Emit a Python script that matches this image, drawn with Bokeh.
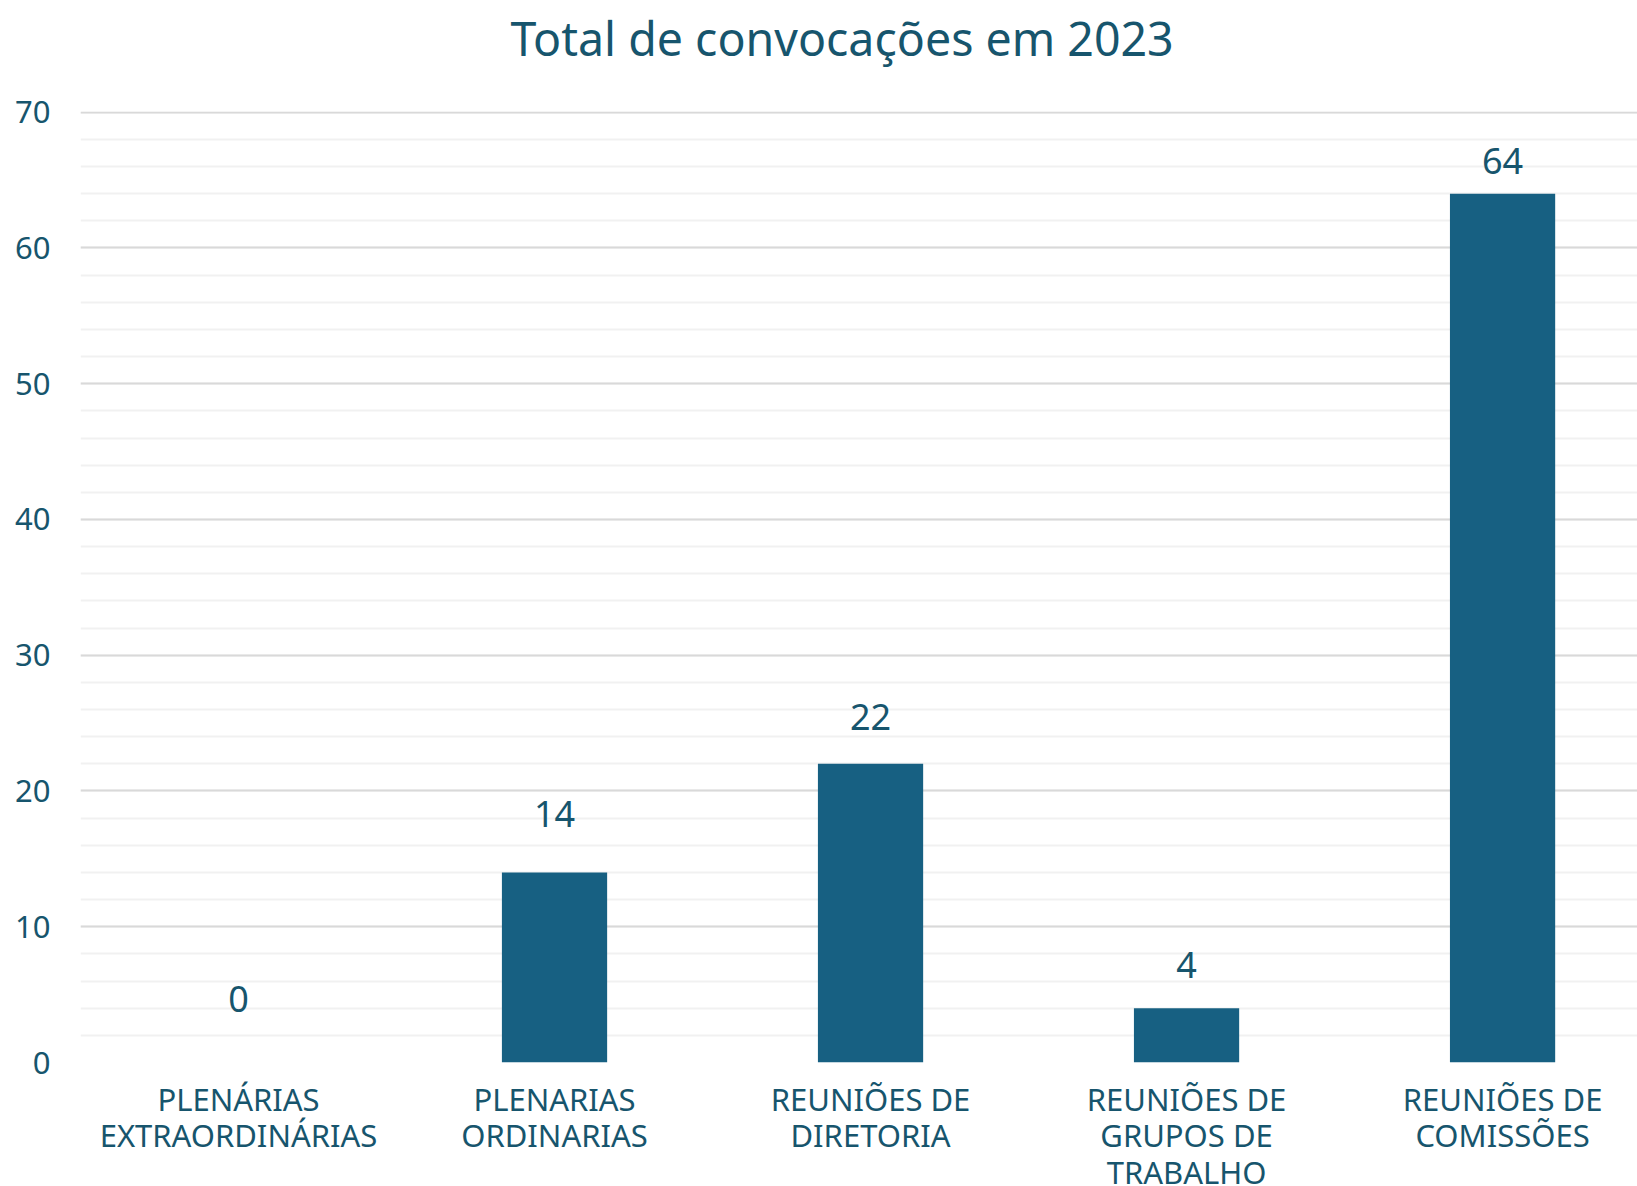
from bokeh.plotting import figure
from bokeh.models import Range1d, SingleIntervalTicker, FixedTicker, ColumnDataSource, LabelSet, Title
from bokeh.core.properties import value
from bokeh.embed import file_html
from bokeh.resources import INLINE

# ---- data ----
categories = [
    "PLENÁRIAS\nEXTRAORDINÁRIAS",
    "PLENARIAS\nORDINARIAS",
    "REUNIÕES DE\nDIRETORIA",
    "REUNIÕES DE\nGRUPOS DE\nTRABALHO",
    "REUNIÕES DE\nCOMISSÕES",
]
values = [0, 14, 22, 4, 64]
value_labels = ["0", "14", "22", "4", "64"]
title_text = "Total de convocações em 2023"

# ---- styling ----
label_gap_px = [51, 45, 34, 30, 20]
FONT = "Noto Sans"
TEXT_COLOR = "#17556d"
BAR_COLOR = "#176082"

positions = list(range(len(categories)))

p = figure(
    frame_width=1557, frame_height=951,
    x_range=Range1d(-0.5, 4.427), y_range=Range1d(0, 70.05),
    output_backend="svg", toolbar_location=None,
    min_border_left=80, min_border_right=0,
    min_border_top=111, min_border_bottom=124,
)
p.outline_line_color = None
p.background_fill_color = "white"
p.border_fill_color = "white"

p.title.text = title_text
p.title.text_font = FONT
p.title.text_font_size = "46.5px"
p.title.text_font_style = "normal"
p.title.text_color = TEXT_COLOR
p.title.align = "left"
p.title.vertical_align = "top"
p.title.offset = 430
p.title.standoff = 6

# blank spacer between the title and the plot area
spacer = Title(text=" ", text_font_size="10px", standoff=24, text_color="white")
p.add_layout(spacer, "above")

src = ColumnDataSource(dict(x=positions, top=values, lab=value_labels, gap=label_gap_px))
p.vbar(x="x", top="top", bottom=0, width=0.333, source=src,
       fill_color=BAR_COLOR, line_color=None)

labels = LabelSet(x="x", y="top", text="lab", source=src, y_offset="gap",
                  text_align="center", text_baseline="alphabetic",
                  text_font_size="36px", text_color=TEXT_COLOR,
                  text_font=value(FONT))
p.add_layout(labels)

# y axis
p.yaxis.ticker = SingleIntervalTicker(interval=10, num_minor_ticks=5)
p.yaxis.axis_line_color = None
p.yaxis.major_tick_line_color = None
p.yaxis.minor_tick_line_color = None
p.yaxis.major_label_text_font = FONT
p.yaxis.major_label_text_font_size = "31px"
p.yaxis.major_label_text_color = TEXT_COLOR
p.yaxis.major_label_standoff = 24

# x axis
p.xaxis.ticker = FixedTicker(ticks=positions)
p.xaxis.major_label_overrides = {i: c for i, c in zip(positions, categories)}
p.xaxis.axis_line_color = None
p.xaxis.major_tick_line_color = None
p.xaxis.minor_tick_line_color = None
p.xaxis.major_label_text_font = FONT
p.xaxis.major_label_text_font_size = "31px"
p.xaxis.major_label_text_color = TEXT_COLOR
p.xaxis.major_label_standoff = 9
p.xaxis.major_label_text_line_height = 0.87

# grids
p.xgrid.grid_line_color = None
p.ygrid.grid_line_color = "#d9d9d9"
p.ygrid.grid_line_width = 2
p.ygrid.minor_grid_line_color = "#f1f1f1"
p.ygrid.minor_grid_line_width = 2
p.ygrid.level = "underlay"

open("out.html", "w").write(file_html(p, INLINE))
